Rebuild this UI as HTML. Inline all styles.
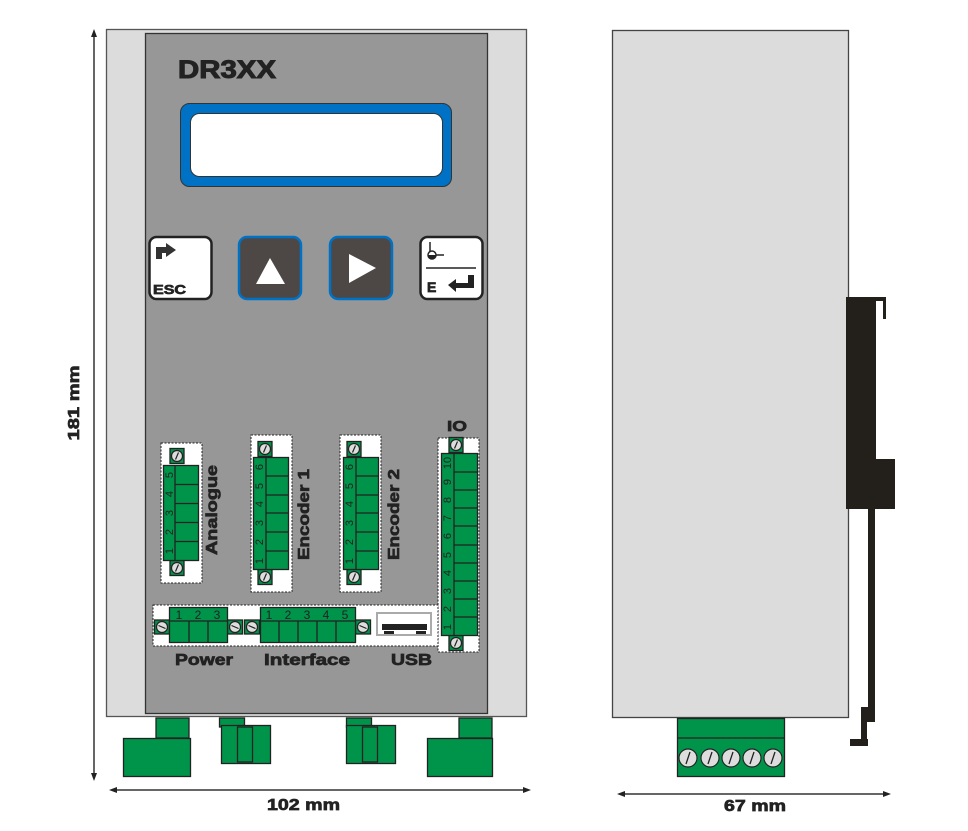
<!DOCTYPE html>
<html><head><meta charset="utf-8"><style>
html,body{margin:0;padding:0;background:#fff;}
svg{display:block;}
text{font-family:"Liberation Sans",sans-serif;}
.b{font-weight:bold;stroke:#222;stroke-width:0.7;fill:#222;}
</style></head><body>
<svg width="968" height="831" viewBox="0 0 968 831" xmlns="http://www.w3.org/2000/svg">
<defs>
<g id="scr"><circle r="5.5" fill="#ddd" stroke="#222" stroke-width="1.2"/><line x1="-1.5" y1="3.5" x2="1.5" y2="-3.5" stroke="#222" stroke-width="1.2"/></g>
<g id="tab"><rect x="-7" y="-7.5" width="14" height="15" fill="#00934a" stroke="#222" stroke-width="1.3"/><use href="#scr"/></g>
</defs>
<!-- dimension lines -->
<line x1="94" y1="32" x2="94" y2="778" stroke="#333" stroke-width="1.5"/>
<path d="M94 29 l-3 8 h6z M94 781 l-3 -8 h6z" fill="#222"/>
<text class="b" transform="translate(79,403) rotate(-90)" text-anchor="middle" font-size="16" textLength="75" lengthAdjust="spacingAndGlyphs">181 mm</text>
<line x1="112" y1="790" x2="528" y2="790" stroke="#333" stroke-width="1.5"/>
<path d="M109 790 l8 -3 v6z M531 790 l-8 -3 v6z" fill="#222"/>
<text class="b" x="267" y="810" font-size="16" textLength="73" lengthAdjust="spacingAndGlyphs">102 mm</text>
<line x1="620" y1="794" x2="888" y2="794" stroke="#333" stroke-width="1.5"/>
<path d="M617 794 l8 -3 v6z M891 794 l-8 -3 v6z" fill="#222"/>
<text class="b" x="724" y="811" font-size="16" textLength="62" lengthAdjust="spacingAndGlyphs">67 mm</text>

<!-- front view -->
<rect x="106.5" y="29.5" width="420" height="687" fill="#dcdcdc" stroke="#555" stroke-width="1.3"/>
<rect x="145.5" y="33.5" width="342" height="680" fill="#979797" stroke="#333" stroke-width="1.3"/>
<text class="b" x="178" y="78" font-size="25" textLength="98" lengthAdjust="spacingAndGlyphs" style="stroke-width:1">DR3XX</text>
<rect x="180.5" y="103.5" width="271" height="83" rx="9" fill="#0072c6" stroke="#333" stroke-width="1"/>
<rect x="190.5" y="113.5" width="252" height="63" rx="9" fill="#fff" stroke="#333" stroke-width="1"/>

<!-- buttons -->
<rect x="149.5" y="237" width="62" height="62" rx="7" fill="#fff" stroke="#222" stroke-width="2.5"/>
<path d="M156 247 h10 v-4 l10 7 -10 7 v-4 h-4 v6 h-6z" fill="#333"/>
<text class="b" x="153" y="294" font-size="13" textLength="33" lengthAdjust="spacingAndGlyphs">ESC</text>
<rect x="239" y="237" width="62" height="62" rx="8" fill="#4d4846" stroke="#0072c6" stroke-width="2.5"/>
<path d="M256 284 L270 258 L285 284z" fill="#fff"/>
<rect x="330" y="237" width="62" height="62" rx="8" fill="#4d4846" stroke="#0072c6" stroke-width="2.5"/>
<path d="M349 254 L376 268 L349 283z" fill="#fff"/>
<rect x="420.5" y="237" width="62" height="62" rx="7" fill="#fff" stroke="#222" stroke-width="2.5"/>
<line x1="430" y1="242" x2="430" y2="257" stroke="#222" stroke-width="1.5"/>
<circle cx="432" cy="255" r="4" fill="#fff" stroke="#222" stroke-width="1.5"/>
<path d="M428 255 a4 4 0 0 0 8 0z" fill="#222"/>
<line x1="436" y1="255" x2="444" y2="255" stroke="#222" stroke-width="1.5"/>
<line x1="426" y1="268" x2="476" y2="268" stroke="#222" stroke-width="1.5"/>
<text class="b" x="427" y="292" font-size="14">E</text>
<path d="M448 285 l8 -6 v4 h12 v-8 h6 v13 h-18 v4z" fill="#222"/>

<!-- Analogue -->
<rect x="161" y="443" width="41" height="140" fill="#fff" stroke="#222" stroke-width="1" stroke-dasharray="2,1.5"/>
<use href="#tab" x="177" y="456"/>
<use href="#tab" x="177" y="568"/>
<rect x="163.5" y="465.5" width="35" height="95" fill="#00934a" stroke="#222" stroke-width="1.3"/>
<line x1="175" y1="465" x2="175" y2="561" stroke="#222" stroke-width="1.3"/>
<path d="M175 484.5h23M175 503.5h23M175 522.5h23M175 541.5h23" stroke="#222" stroke-width="1.3"/>
<g font-size="11" fill="#222" text-anchor="middle">
<text transform="translate(173,551) rotate(-90)">1</text><text transform="translate(173,532) rotate(-90)">2</text><text transform="translate(173,513) rotate(-90)">3</text><text transform="translate(173,494) rotate(-90)">4</text><text transform="translate(173,475) rotate(-90)">5</text>
</g>
<text class="b" transform="translate(217,555) rotate(-90)" font-size="16" textLength="90" lengthAdjust="spacingAndGlyphs">Analogue</text>

<!-- Encoder 1 -->
<rect x="251" y="435" width="41" height="157" fill="#fff" stroke="#222" stroke-width="1" stroke-dasharray="2,1.5"/>
<use href="#tab" x="265" y="449"/>
<use href="#tab" x="265" y="577"/>
<rect x="253.5" y="457.5" width="35" height="112" fill="#00934a" stroke="#222" stroke-width="1.3"/>
<line x1="266" y1="457" x2="266" y2="570" stroke="#222" stroke-width="1.3"/>
<path d="M266 476h22M266 495h22M266 513h22M266 532h22M266 551h22" stroke="#222" stroke-width="1.3"/>
<g font-size="11" fill="#222" text-anchor="middle">
<text transform="translate(263,561) rotate(-90)">1</text><text transform="translate(263,542) rotate(-90)">2</text><text transform="translate(263,523) rotate(-90)">3</text><text transform="translate(263,504) rotate(-90)">4</text><text transform="translate(263,486) rotate(-90)">5</text><text transform="translate(263,467) rotate(-90)">6</text>
</g>
<text class="b" transform="translate(309,560) rotate(-90)" font-size="16" textLength="91" lengthAdjust="spacingAndGlyphs">Encoder 1</text>

<!-- Encoder 2 -->
<rect x="340" y="435" width="41" height="157" fill="#fff" stroke="#222" stroke-width="1" stroke-dasharray="2,1.5"/>
<use href="#tab" x="354" y="449"/>
<use href="#tab" x="354" y="577"/>
<rect x="343.5" y="457.5" width="35" height="112" fill="#00934a" stroke="#222" stroke-width="1.3"/>
<line x1="356" y1="457" x2="356" y2="570" stroke="#222" stroke-width="1.3"/>
<path d="M356 476h22M356 495h22M356 513h22M356 532h22M356 551h22" stroke="#222" stroke-width="1.3"/>
<g font-size="11" fill="#222" text-anchor="middle">
<text transform="translate(353,561) rotate(-90)">1</text><text transform="translate(353,542) rotate(-90)">2</text><text transform="translate(353,523) rotate(-90)">3</text><text transform="translate(353,504) rotate(-90)">4</text><text transform="translate(353,486) rotate(-90)">5</text><text transform="translate(353,467) rotate(-90)">6</text>
</g>
<text class="b" transform="translate(399,560) rotate(-90)" font-size="16" textLength="91" lengthAdjust="spacingAndGlyphs">Encoder 2</text>

<!-- IO -->
<text class="b" x="447" y="431" font-size="15" textLength="20" lengthAdjust="spacingAndGlyphs">IO</text>
<rect x="438" y="438" width="41" height="214" fill="#fff" stroke="#222" stroke-width="1" stroke-dasharray="2,1.5"/>
<use href="#tab" x="456" y="445"/>
<use href="#tab" x="456" y="643"/>
<rect x="441.5" y="453.5" width="36" height="182" fill="#00934a" stroke="#222" stroke-width="1.3"/>
<line x1="454" y1="453" x2="454" y2="636" stroke="#222" stroke-width="1.3"/>
<path d="M454 472h23M454 490h23M454 508h23M454 526h23M454 545h23M454 563h23M454 581h23M454 599h23M454 617h23" stroke="#222" stroke-width="1.3"/>
<g font-size="11" fill="#222" text-anchor="middle">
<text transform="translate(451,627) rotate(-90)">1</text><text transform="translate(451,609) rotate(-90)">2</text><text transform="translate(451,591) rotate(-90)">3</text><text transform="translate(451,573) rotate(-90)">4</text><text transform="translate(451,555) rotate(-90)">5</text><text transform="translate(451,536) rotate(-90)">6</text><text transform="translate(451,518) rotate(-90)">7</text><text transform="translate(451,500) rotate(-90)">8</text><text transform="translate(451,482) rotate(-90)">9</text><text transform="translate(451,463) rotate(-90)">10</text>
</g>

<!-- bottom strip -->
<rect x="153" y="605" width="285" height="41" fill="#fff" stroke="#222" stroke-width="1" stroke-dasharray="2,1.5"/>
<g transform="translate(162,627) rotate(90)"><use href="#tab"/></g>
<g transform="translate(235,627) rotate(90)"><use href="#tab"/></g>
<rect x="169.5" y="607.5" width="58" height="35" fill="#00934a" stroke="#222" stroke-width="1.3"/>
<path d="M169 621h58M189 621v22M208 621v22" stroke="#222" stroke-width="1.3"/>
<g font-size="12" fill="#222" text-anchor="middle"><text x="179" y="619">1</text><text x="198" y="619">2</text><text x="217" y="619">3</text></g>
<g transform="translate(252,627) rotate(90)"><use href="#tab"/></g>
<g transform="translate(363,627) rotate(90)"><use href="#tab"/></g>
<rect x="260.5" y="607.5" width="95" height="35" fill="#00934a" stroke="#222" stroke-width="1.3"/>
<path d="M260 621h95M279 621v22M298 621v22M317 621v22M336 621v22" stroke="#222" stroke-width="1.3"/>
<g font-size="12" fill="#222" text-anchor="middle"><text x="269" y="619">1</text><text x="288" y="619">2</text><text x="307" y="619">3</text><text x="326" y="619">4</text><text x="345" y="619">5</text></g>
<rect x="377" y="613" width="54" height="22" fill="#fff" stroke="#aaa" stroke-width="2"/>
<rect x="382" y="624" width="45" height="6" fill="#222"/>
<rect x="384" y="631" width="10" height="3" fill="#222"/>
<rect x="416" y="631" width="10" height="3" fill="#222"/>
<text class="b" x="175" y="665" font-size="16" textLength="58" lengthAdjust="spacingAndGlyphs">Power</text>
<text class="b" x="264" y="665" font-size="16" textLength="86" lengthAdjust="spacingAndGlyphs">Interface</text>
<text class="b" x="391" y="665" font-size="16" textLength="41" lengthAdjust="spacingAndGlyphs">USB</text>

<!-- bottom plugs -->
<g fill="#00934a" stroke="#222" stroke-width="1.3">
<rect x="156" y="718" width="33" height="20"/><rect x="123.5" y="738.5" width="67" height="38"/>
<rect x="459" y="718" width="33" height="20"/><rect x="427.5" y="738.5" width="65" height="38"/>
<rect x="219.5" y="718" width="25" height="9"/><rect x="221.5" y="725.5" width="49" height="38"/><rect x="237.5" y="727" width="15" height="35"/>
<rect x="346.5" y="718" width="25" height="9"/><rect x="346.5" y="725.5" width="49" height="38"/><rect x="362.5" y="727" width="15" height="35"/>
</g>

<!-- side view -->
<rect x="612.5" y="30.5" width="236" height="687" fill="#dcdcdc" stroke="#444" stroke-width="1.3"/>
<g fill="#23201c">
<rect x="846" y="297" width="30" height="212"/>
<rect x="876" y="297" width="9" height="4"/>
<rect x="883" y="297" width="3" height="22"/>
<rect x="876" y="459" width="19" height="50"/>
<rect x="868" y="509" width="7" height="213"/>
<rect x="861" y="707" width="14" height="15"/>
<rect x="861" y="707" width="6" height="39"/>
<rect x="850" y="739" width="18" height="7"/>
</g>
<rect x="677.5" y="718.5" width="107" height="58" fill="#00934a" stroke="#222" stroke-width="1.3"/>
<line x1="677" y1="738" x2="784" y2="738" stroke="#222" stroke-width="1.3"/>
<g transform="translate(688,758)"><circle r="9" fill="#ddd" stroke="#222" stroke-width="1.2"/><line x1="-2" y1="6" x2="2" y2="-6" stroke="#222" stroke-width="1.3"/></g>
<g transform="translate(710,758)"><circle r="9" fill="#ddd" stroke="#222" stroke-width="1.2"/><line x1="-2" y1="6" x2="2" y2="-6" stroke="#222" stroke-width="1.3"/></g>
<g transform="translate(731,758)"><circle r="9" fill="#ddd" stroke="#222" stroke-width="1.2"/><line x1="-2" y1="6" x2="2" y2="-6" stroke="#222" stroke-width="1.3"/></g>
<g transform="translate(752,758)"><circle r="9" fill="#ddd" stroke="#222" stroke-width="1.2"/><line x1="-2" y1="6" x2="2" y2="-6" stroke="#222" stroke-width="1.3"/></g>
<g transform="translate(773,758)"><circle r="9" fill="#ddd" stroke="#222" stroke-width="1.2"/><line x1="-2" y1="6" x2="2" y2="-6" stroke="#222" stroke-width="1.3"/></g>
</svg>
</body></html>
